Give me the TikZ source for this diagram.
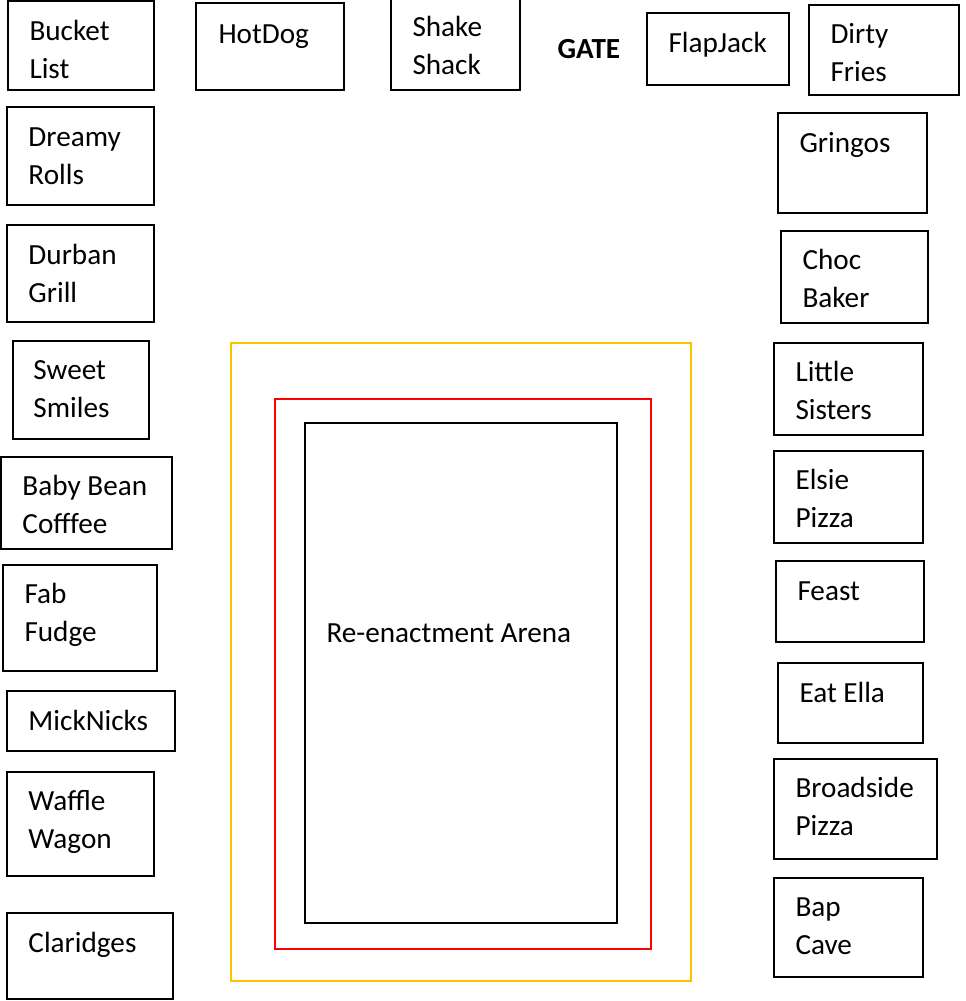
\documentclass[tikz,border=0pt]{standalone}
\usepackage{fontspec}
\setmainfont{Carlito}
\definecolor{arenagold}{RGB}{255,192,0}
\definecolor{arenared}{RGB}{255,0,0}
\tikzset{every picture/.style={line width=0.75pt}}
\tikzset{
  stallbox/.style={draw=black,line width=1.5pt},
  ringbox/.style={line width=2pt},
  stalltext/.style={anchor=base west,inner sep=0pt,align=left,font=\fontsize{21.9}{28.5}\selectfont},
  gatetext/.style={anchor=base west,inner sep=0pt,font=\fontsize{21.9}{28.5}\selectfont\bfseries}
}
\begin{document}
\begin{tikzpicture}[x=0.75pt,y=0.75pt,yscale=-1,xscale=1]
\useasboundingbox (0,0) rectangle (966,1001);
%two-line names sit on the baseline of their last line

%Shape: Rectangle - outer ring
\draw [ringbox,draw=arenagold] (231,343) -- (691,343) -- (691,981) -- (231,981) -- cycle ;
%Shape: Rectangle - inner ring
\draw [ringbox,draw=arenared] (275,399) -- (651,399) -- (651,949) -- (275,949) -- cycle ;
%Shape: Rectangle - arena
\draw [stallbox] (305,423) -- (617,423) -- (617,923) -- (305,923) -- cycle ;
% Text Node
\node [stalltext] (arena) at (326,642) {Re-enactment Arena};

% Text Node
\node [gatetext] (gate) at (557,58) {GATE};

%Shape: Rectangle
\draw [stallbox] (8,1) -- (154,1) -- (154,90) -- (8,90) -- cycle ;
% Text Node
\node [stalltext] (bucket) at (29,78) {Bucket\\List};
%Shape: Rectangle
\draw [stallbox] (196,3) -- (344,3) -- (344,90) -- (196,90) -- cycle ;
% Text Node
\node [stalltext] (hotdog) at (218,43) {HotDog};
%Shape: Rectangle
\draw [stallbox] (391,-3) -- (520,-3) -- (520,90) -- (391,90) -- cycle ;
% Text Node
\node [stalltext] (shake) at (412,74) {Shake\\Shack};
%Shape: Rectangle
\draw [stallbox] (647,13) -- (789,13) -- (789,85) -- (647,85) -- cycle ;
% Text Node
\node [stalltext] (flapjack) at (668,52) {FlapJack};
%Shape: Rectangle
\draw [stallbox] (809,5) -- (959,5) -- (959,95) -- (809,95) -- cycle ;
% Text Node
\node [stalltext] (dirty) at (830,81) {Dirty\\Fries};

%Shape: Rectangle
\draw [stallbox] (7,107) -- (154,107) -- (154,205) -- (7,205) -- cycle ;
% Text Node
\node [stalltext] (dreamy) at (28,184) {Dreamy\\Rolls};
%Shape: Rectangle
\draw [stallbox] (7,225) -- (154,225) -- (154,322) -- (7,322) -- cycle ;
% Text Node
\node [stalltext] (durban) at (28,302) {Durban\\Grill};
%Shape: Rectangle
\draw [stallbox] (13,341) -- (149,341) -- (149,439) -- (13,439) -- cycle ;
% Text Node
\node [stalltext] (sweet) at (33,417) {Sweet\\Smiles};
%Shape: Rectangle
\draw [stallbox] (1,457) -- (172,457) -- (172,549) -- (1,549) -- cycle ;
% Text Node
\node [stalltext] (babybean) at (22,533) {Baby Bean\\Cofffee};
%Shape: Rectangle
\draw [stallbox] (3,565) -- (157,565) -- (157,671) -- (3,671) -- cycle ;
% Text Node
\node [stalltext] (fabfudge) at (24,641) {Fab\\Fudge};
%Shape: Rectangle
\draw [stallbox] (7,691) -- (175,691) -- (175,751) -- (7,751) -- cycle ;
% Text Node
\node [stalltext] (micknicks) at (28,730) {MickNicks};
%Shape: Rectangle
\draw [stallbox] (7,772) -- (154,772) -- (154,876) -- (7,876) -- cycle ;
% Text Node
\node [stalltext] (waffle) at (28,848) {Waffle\\Wagon};
%Shape: Rectangle
\draw [stallbox] (7,913) -- (173,913) -- (173,999) -- (7,999) -- cycle ;
% Text Node
\node [stalltext] (claridges) at (28,952) {Claridges};

%Shape: Rectangle
\draw [stallbox] (778,113) -- (927,113) -- (927,213) -- (778,213) -- cycle ;
% Text Node
\node [stalltext] (gringos) at (799,152) {Gringos};
%Shape: Rectangle
\draw [stallbox] (781,231) -- (928,231) -- (928,323) -- (781,323) -- cycle ;
% Text Node
\node [stalltext] (choc) at (802,307) {Choc\\Baker};
%Shape: Rectangle
\draw [stallbox] (774,343) -- (923,343) -- (923,435) -- (774,435) -- cycle ;
% Text Node
\node [stalltext] (little) at (795,419) {Little\\Sisters};
%Shape: Rectangle
\draw [stallbox] (774,451) -- (923,451) -- (923,543) -- (774,543) -- cycle ;
% Text Node
\node [stalltext] (elsie) at (795,527) {Elsie\\Pizza};
%Shape: Rectangle
\draw [stallbox] (776,561) -- (924,561) -- (924,642) -- (776,642) -- cycle ;
% Text Node
\node [stalltext] (feast) at (797,600) {Feast};
%Shape: Rectangle
\draw [stallbox] (778,663) -- (923,663) -- (923,743) -- (778,743) -- cycle ;
% Text Node
\node [stalltext] (eatella) at (799,702) {Eat Ella};
%Shape: Rectangle
\draw [stallbox] (774,759) -- (937,759) -- (937,859) -- (774,859) -- cycle ;
% Text Node
\node [stalltext] (broadside) at (795,835) {Broadside\\Pizza};
%Shape: Rectangle
\draw [stallbox] (774,878) -- (923,878) -- (923,977) -- (774,977) -- cycle ;
% Text Node
\node [stalltext] (bapcave) at (795,954) {Bap\\Cave};

\end{tikzpicture}
\end{document}
